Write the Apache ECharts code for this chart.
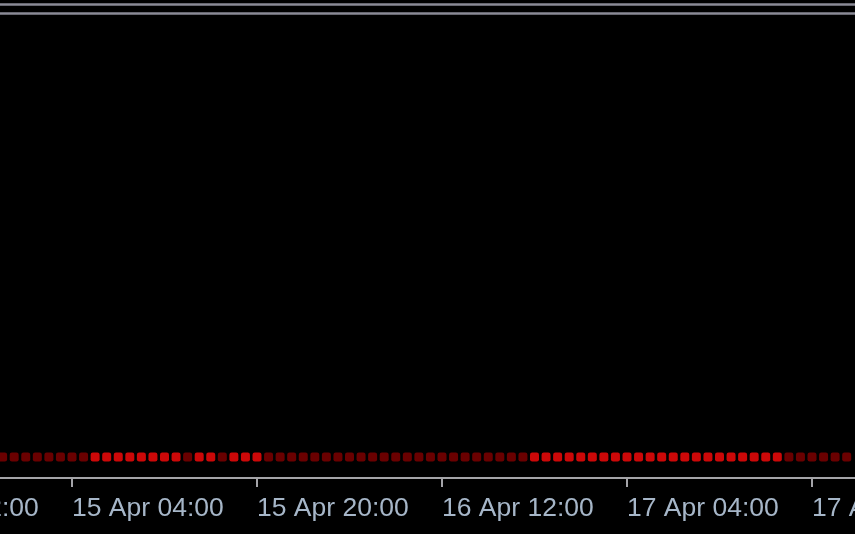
<!DOCTYPE html>
<html>
<head>
<meta charset="utf-8">
<script src="https://cdn.jsdelivr.net/npm/echarts@6/dist/echarts.min.js"></script>
<style>
html,body{margin:0;padding:0;background:#000;}
#c{width:855px;height:534px;}
</style>
</head>
<body>
<div id="c"></div>
<script>
// hours counted from 14 Apr 00:00
const hours = [22,23,24,25,26,27,28,29,30,31,32,33,34,35,36,37,38,39,40,41,42,43,44,45,46,47,48,49,50,51,52,53,54,55,56,57,58,59,60,61,62,63,64,65,66,67,68,69,70,71,72,73,74,75,76,77,78,79,80,81,82,83,84,85,86,87,88,89,90,91,92,93,94,95];
// 1 = bright signal, 0 = dim signal
const states = [0,0,0,0,0,0,0,0,1,1,1,1,1,1,1,1,0,1,1,0,1,1,1,0,0,0,0,0,0,0,0,0,0,0,0,0,0,0,0,0,0,0,0,0,0,0,1,1,1,1,1,1,1,1,1,1,1,1,1,1,1,1,1,1,1,1,1,1,0,0,0,0,0,0];
const signalLevel = 0;
const levelLines = [0.975, 0.988];
const tickHours = [12,28,44,60,76,92,108];

const months = 'Apr';
function fmt(h){
  const day = 14 + Math.floor(h/24);
  const hr = h % 24;
  return day + ' ' + months + ' ' + String(hr).padStart(2,'0') + ':00';
}

const chart = echarts.init(document.getElementById('c'), null, {renderer:'canvas'});
chart.setOption({
  backgroundColor:'#000',
  animation:false,
  grid:{left:-113, right:-142, top:0, bottom:56, containLabel:false, outerBoundsMode:'none'},
  xAxis:{
    type:'value', min:tickHours[0], max:tickHours[tickHours.length-1], interval:16,
    axisLine:{show:true, onZero:false, lineStyle:{color:'#a4a4a8', width:2}},
    axisTick:{show:true, length:9, lineStyle:{color:'#a4a4a8', width:2}},
    axisLabel:{show:true, align:'left', margin:17, color:'#a6b6c8', fontFamily:'Liberation Sans', fontSize:26.5,
      hideOverlap:false, showMinLabel:true, showMaxLabel:true, formatter:v=>fmt(v)},
    splitLine:{show:false}
  },
  yAxis:{type:'value', min:-0.04595, max:1, show:false, splitLine:{show:false}},
  series:[{
    type:'scatter',
    symbol:'roundRect',
    symbolSize:9,
    data:hours.map((h,i)=>({value:[h,signalLevel], itemStyle:{color: states[i]? '#ff0a0a' : '#840000'}})),
    markLine:{
      silent:true, symbol:'none', label:{show:false},
      lineStyle:{color:'#8a8a96', width:2.5, type:'solid'},
      data:levelLines.map(v=>({yAxis:v}))
    }
  }]
});
</script>
</body>
</html>
